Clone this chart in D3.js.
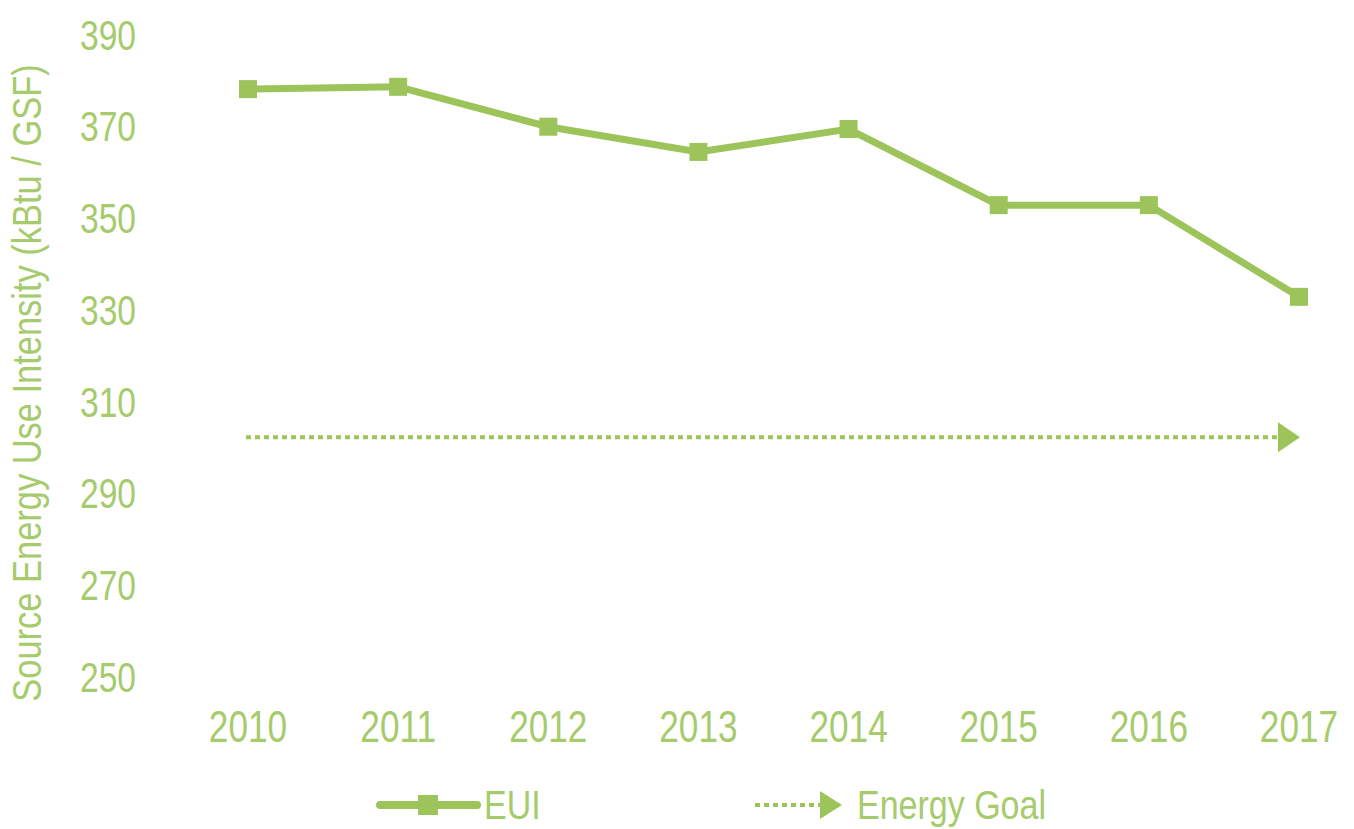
<!DOCTYPE html>
<html><head><meta charset="utf-8">
<script src="https://cdn.jsdelivr.net/npm/d3@7"></script>
<style>body{margin:0;background:#fff}svg text{font-family:"Liberation Sans","Arial",sans-serif;fill:#a6cb6c}</style>
</head><body><svg id="c" width="1354" height="829"></svg>
<script>
const years = ["2010","2011","2012","2013","2014","2015","2016","2017"];
const eui = [378.2, 378.7, 370.0, 364.5, 369.5, 352.9, 352.9, 332.9];
const goal = 302.3;
const yTicks = [250,270,290,310,330,350,370,390];
const color = "#9cc45a";
const SX = 0.8; // narrow font emulation

const svg = d3.select("#c");
const x = d3.scalePoint().domain(years).range([248,1299]);
const y = d3.scaleLinear().domain([250,390]).range([677,35]);

function narrowText(g, tx, ty, txt, size, anchor, rot, sx){
  return g.append("text").attr("transform",`translate(${tx},${ty})${rot?` rotate(${rot})`:""} scale(${sx||SX},1)`)
    .attr("text-anchor",anchor).attr("dy","0.35em").attr("font-size",size).text(txt);
}

// y tick labels
const gy = svg.append("g");
yTicks.forEach(d=>narrowText(gy,136,y(d),d,42,"end"));
// x labels
const gx = svg.append("g");
years.forEach(d=>narrowText(gx,x(d),727,d,44,"middle"));
// y title
narrowText(svg,27,383,"Source Energy Use Intensity (kBtu / GSF)",41,"middle",-90,0.84);

// goal line
const goalY=y(goal), gEnd=x(years[7])+1;
svg.append("line").attr("x1",x(years[0])-2).attr("x2",gEnd-22).attr("y1",goalY).attr("y2",goalY)
  .attr("stroke",color).attr("stroke-width",4).attr("stroke-dasharray","5 4");
svg.append("path").attr("d",`M${gEnd-22},${goalY-15}L${gEnd},${goalY}L${gEnd-22},${goalY+15}Z`).attr("fill",color);

// EUI line
svg.append("path").datum(eui).attr("fill","none").attr("stroke",color).attr("stroke-width",7)
  .attr("d",d3.line().x((d,i)=>x(years[i])).y(d=>y(d)));
svg.append("g").selectAll("rect").data(eui).join("rect")
  .attr("x",(d,i)=>x(years[i])-9).attr("y",d=>y(d)-9).attr("width",18).attr("height",18).attr("fill",color);

// legend
const ly=805;
svg.append("line").attr("x1",380).attr("x2",477).attr("y1",ly).attr("y2",ly).attr("stroke",color).attr("stroke-width",8).attr("stroke-linecap","round");
svg.append("rect").attr("x",418).attr("y",ly-10).attr("width",20).attr("height",20).attr("fill",color);
narrowText(svg,484,ly,"EUI",40,"start",0,0.85);
svg.append("line").attr("x1",755).attr("x2",820).attr("y1",ly).attr("y2",ly)
  .attr("stroke",color).attr("stroke-width",4).attr("stroke-dasharray","5 4");
svg.append("path").attr("d",`M820,${ly-14}L842,${ly}L820,${ly+14}Z`).attr("fill",color);
narrowText(svg,857,ly,"Energy Goal",40,"start",0,0.85);
</script></body></html>
